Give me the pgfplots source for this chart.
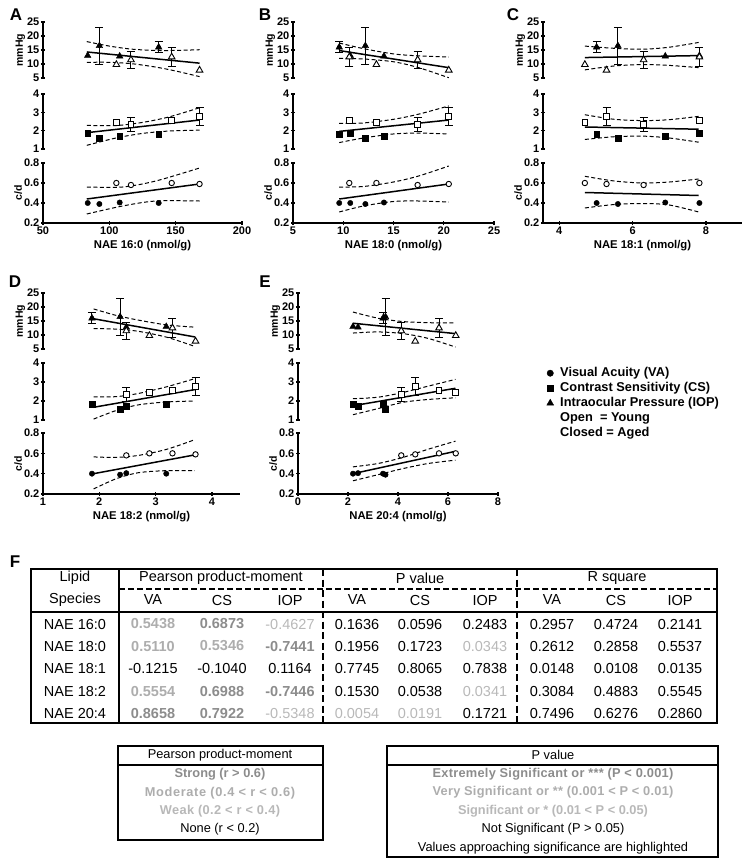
\documentclass[border=0pt]{standalone}
\usepackage{fontspec}
\setmainfont{Liberation Sans}
\usepackage{pgfplots}
\pgfplotsset{compat=1.18}
\definecolor{gS}{gray}{0.55}
\definecolor{gM}{gray}{0.68}
\definecolor{gW}{gray}{0.72}
\pgfplotsset{
  sub/.style={scale only axis, clip=false, tick align=outside, major tick length=4pt,
    every tick/.style={line width=1.3pt,black},
    ticklabel style={font=\bfseries\fontsize{11}{12}\selectfont, inner sep=1.5pt},
    xlabel style={font=\bfseries\fontsize{11.3}{13}\selectfont, yshift=-1pt},
    ylabel style={font=\bfseries\fontsize{10.5}{12}\selectfont},
    ylabel shift=-3pt,
    anchor=south west},
  iop/.style={sub, axis x line=none, axis y line=left, ymin=5, ymax=25, ytick={5,10,15,20,25}, yticklabels={5,10,15,20,25}, ylabel={mmHg}, height=56pt, axis line style={-, line width=1.5pt}},
  cs/.style={sub, axis x line=none, axis y line=left, ymin=1, ymax=4, ytick={1,2,3,4}, yticklabels={1,2,3,4}, height=55pt, axis line style={-, line width=1.5pt}},
  va/.style={sub, axis x line=bottom, axis y line=left, ymin=0.2, ymax=0.8, ytick={0.2,0.4,0.6,0.8}, yticklabels={0.2,0.4,0.6,0.8}, ylabel={c/d}, height=60pt, axis line style={-, line width=1.5pt}},
  regl/.style={black, line width=1.5pt, no marks},
  band/.style={black, line width=1pt, dash pattern=on 4pt off 2.5pt, smooth, no marks},
  eb/.style={only marks, mark=none, black, error bars/.cd, y dir=both, y explicit, error bar style={black, line width=1pt}, error mark options={black, rotate=90, mark size=4pt, line width=1pt}},
  cc/.style={only marks, black, mark=*, mark size=2.7pt},
  oc/.style={only marks, black, mark=*, mark size=2.7pt, mark options={fill=white, line width=0.9pt}},
  cq/.style={only marks, black, mark=square*, mark size=2.9pt},
  oq/.style={only marks, black, mark=square*, mark size=2.9pt, mark options={fill=white, line width=0.9pt}},
  ct/.style={only marks, black, mark=triangle*, mark size=3.8pt},
  ot/.style={only marks, black, mark=triangle*, mark size=3.8pt, mark options={fill=white, line width=0.9pt}},
}
\newcommand\T[3]{\node[font=\fontsize{14.5}{16}\selectfont] at (#1pt,-#2pt) {#3};}
\begin{document}
\begin{tikzpicture}
\path[use as bounding box] (0,0) rectangle (751pt,-868pt);
\tikzset{lett/.style={font=\bfseries\fontsize{17}{17}\selectfont}}
\node[lett] at (16pt,-15pt) {A};
\node[lett] at (265pt,-15pt) {B};
\node[lett] at (513pt,-15pt) {C};
\node[lett] at (15pt,-282pt) {D};
\node[lett] at (265pt,-282pt) {E};
\node[lett] at (15pt,-562pt) {F};

% ================= Panel A =================
\begin{axis}[iop, at={(43pt,-78pt)}, width=199pt, xmin=50, xmax=200]
\addplot[eb] coordinates {(92.5,16.5) +- (0,6.5) (137.2,16) +- (0,2) (116.3,11.5) +- (0,3) (147,12.5) +- (0,3.5)};
\addplot[band] coordinates {(83,18.0)(100,16.4)(117,15.3)(135,14.85)(150,14.85)(168,15.1)};
\addplot[band] coordinates {(83,10.6)(100,10.6)(117,10.1)(135,8.9)(150,7.5)(168,5.5)};
\addplot[regl] coordinates {(83,14.3)(168,10.3)};
\addplot[ct] coordinates {(83.7,13.0)(92.5,16.5)(107.8,12.8)(137.2,16)};
\addplot[ot] coordinates {(105.3,9.8)(116.3,11.5)(147,12.5)(168,7.8)};
\end{axis}
\begin{axis}[cs, at={(43pt,-149pt)}, width=199pt, xmin=50, xmax=200]
\addplot[eb] coordinates {(116.3,2.33) +- (0,0.37) (168,2.76) +- (0,0.48)};
\addplot[band] coordinates {(83,2.29)(105,2.28)(125,2.45)(145,2.75)(168,3.25)};
\addplot[band] coordinates {(83,1.2)(105,1.6)(125,1.85)(145,1.98)(168,2.03)};
\addplot[regl] coordinates {(83,1.89)(168,2.58)};
\addplot[cq] coordinates {(83.7,1.85)(92.5,1.58)(107.8,1.71)(137.2,1.82)};
\addplot[oq] coordinates {(105.3,2.45)(116.3,2.33)(147,2.57)(168,2.76)};
\end{axis}
\begin{axis}[va, at={(43pt,-223pt)}, width=199pt, xmin=50, xmax=200, xtick={50,100,150,200}, xticklabels={50,100,150,200}, xlabel={NAE 16:0 (nmol/g)}]
\addplot[band] coordinates {(83,0.56)(110,0.56)(135,0.62)(168,0.75)};
\addplot[band] coordinates {(83,0.29)(110,0.37)(135,0.42)(168,0.42)};
\addplot[regl] coordinates {(83,0.44)(168,0.59)};
\addplot[cc] coordinates {(83.7,0.40)(92.5,0.39)(107.8,0.405)(137.2,0.40)};
\addplot[oc] coordinates {(105.3,0.60)(116.3,0.58)(147,0.60)(168,0.59)};
\end{axis}

% ================= Panel B =================
\begin{axis}[iop, at={(293pt,-78pt)}, width=201pt, xmin=5, xmax=25]
\addplot[eb] coordinates {(12.2,16.5) +- (0,6.5) (9.6,16) +- (0,2) (17.4,11.5) +- (0,3) (10.6,12.5) +- (0,3.5)};
\addplot[band] coordinates {(9.6,17.5)(12,15.5)(15,13.6)(17.5,12.9)(20.5,12.5)};
\addplot[band] coordinates {(9.6,12.0)(12,11.8)(15,10.8)(17.5,8.7)(20.5,5.1)};
\addplot[regl] coordinates {(9.6,14.8)(20.5,8.7)};
\addplot[ct] coordinates {(10.7,13.0)(12.2,16.5)(14.05,12.8)(9.6,16)};
\addplot[ot] coordinates {(13.3,9.8)(17.4,11.5)(10.6,12.5)(20.5,7.8)};
\end{axis}
\begin{axis}[cs, at={(293pt,-149pt)}, width=201pt, xmin=5, xmax=25]
\addplot[eb] coordinates {(17.4,2.33) +- (0,0.37) (20.5,2.76) +- (0,0.48)};
\addplot[band] coordinates {(9.6,2.4)(12,2.42)(15,2.62)(17.5,2.9)(20.5,3.35)};
\addplot[band] coordinates {(9.6,1.35)(12,1.6)(15,1.82)(17.5,1.87)(20.5,1.82)};
\addplot[regl] coordinates {(9.6,1.96)(20.5,2.58)};
\addplot[cq] coordinates {(10.7,1.85)(12.2,1.58)(14.05,1.71)(9.6,1.82)};
\addplot[oq] coordinates {(13.3,2.45)(17.4,2.33)(10.6,2.57)(20.5,2.76)};
\end{axis}
\begin{axis}[va, at={(293pt,-223pt)}, width=201pt, xmin=5, xmax=25, xtick={5,10,15,20,25}, xticklabels={5,10,15,20,25}, xlabel={NAE 18:0 (nmol/g)}]
\addplot[band] coordinates {(9.6,0.56)(12,0.565)(15,0.61)(17.5,0.67)(20.5,0.77)};
\addplot[band] coordinates {(9.6,0.31)(12,0.37)(15,0.415)(17.5,0.42)(20.5,0.41)};
\addplot[regl] coordinates {(9.6,0.44)(20.5,0.59)};
\addplot[cc] coordinates {(10.7,0.40)(12.2,0.39)(14.05,0.405)(9.6,0.40)};
\addplot[oc] coordinates {(13.3,0.60)(17.4,0.58)(10.6,0.60)(20.5,0.59)};
\end{axis}

% ================= Panel C =================
\begin{axis}[iop, at={(543pt,-78pt)}, width=199pt, xmin=3.56, xmax=8.98]
\addplot[eb] coordinates {(5.6,16.5) +- (0,6.5) (5.02,16) +- (0,2) (6.30,11.5) +- (0,3) (7.82,12.5) +- (0,3.5)};
\addplot[band] coordinates {(4.7,16.4)(5.5,15.6)(6.3,15.3)(7,16)(7.8,17.7)};
\addplot[band] coordinates {(4.7,7.9)(5.5,9.3)(6.3,9.8)(7,9.5)(7.8,8.7)};
\addplot[regl] coordinates {(4.7,12.3)(7.8,13.0)};
\addplot[ct] coordinates {(7.82,13.0)(5.6,16.5)(6.89,12.8)(5.02,16)};
\addplot[ot] coordinates {(4.70,9.8)(6.30,11.5)(7.82,12.5)(5.29,7.8)};
\end{axis}
\begin{axis}[cs, at={(543pt,-149pt)}, width=199pt, xmin=3.56, xmax=8.98]
\addplot[eb] coordinates {(6.30,2.33) +- (0,0.37) (5.29,2.76) +- (0,0.48)};
\addplot[band] coordinates {(4.7,2.87)(5.5,2.62)(6.3,2.55)(7,2.6)(7.8,2.78)};
\addplot[band] coordinates {(4.7,1.52)(5.5,1.67)(6.3,1.7)(7,1.6)(7.8,1.37)};
\addplot[regl] coordinates {(4.7,2.2)(7.8,2.08)};
\addplot[cq] coordinates {(7.82,1.85)(5.6,1.58)(6.89,1.71)(5.02,1.82)};
\addplot[oq] coordinates {(4.70,2.45)(6.30,2.33)(7.82,2.57)(5.29,2.76)};
\end{axis}
\begin{axis}[va, at={(543pt,-223pt)}, width=199pt, xmin=3.56, xmax=8.98, xtick={4,6,8}, xticklabels={4,6,8}, xlabel={NAE 18:1 (nmol/g)}]
\addplot[band] coordinates {(4.7,0.667)(5.5,0.62)(6.3,0.6)(7,0.61)(7.8,0.64)};
\addplot[band] coordinates {(4.7,0.35)(5.5,0.385)(6.3,0.395)(7,0.38)(7.8,0.31)};
\addplot[regl] coordinates {(4.7,0.505)(7.8,0.475)};
\addplot[cc] coordinates {(7.82,0.40)(5.6,0.39)(6.89,0.405)(5.02,0.40)};
\addplot[oc] coordinates {(4.70,0.60)(6.30,0.58)(7.82,0.60)(5.29,0.59)};
\end{axis}

% ================= Panel D =================
\begin{axis}[iop, at={(43pt,-349pt)}, width=197pt, xmin=1, xmax=4.5]
\addplot[eb] coordinates {(2.37,16.5) +- (0,6.5) (1.87,16) +- (0,2) (2.48,11.5) +- (0,3) (3.30,12.5) +- (0,3.5)};
\addplot[band] coordinates {(1.9,19.3)(2.3,17.0)(2.7,15.3)(3.2,13.6)(3.7,12.8)};
\addplot[band] coordinates {(1.9,12.3)(2.3,12.1)(2.7,11.3)(3.2,9.2)(3.7,5.9)};
\addplot[regl] coordinates {(1.9,15.8)(3.7,9.3)};
\addplot[ct] coordinates {(3.19,13.0)(2.37,16.5)(2.48,12.8)(1.87,16)};
\addplot[ot] coordinates {(2.89,9.8)(2.48,11.5)(3.30,12.5)(3.71,7.8)};
\end{axis}
\begin{axis}[cs, at={(43pt,-420pt)}, height=57pt, width=197pt, xmin=1, xmax=4.5]
\addplot[eb] coordinates {(2.48,2.33) +- (0,0.37) (3.71,2.76) +- (0,0.48)};
\addplot[band] coordinates {(1.9,2.22)(2.3,2.23)(2.7,2.4)(3.2,2.75)(3.7,3.18)};
\addplot[band] coordinates {(1.9,1.05)(2.3,1.5)(2.7,1.8)(3.2,1.95)(3.7,2.0)};
\addplot[regl] coordinates {(1.9,1.67)(3.7,2.6)};
\addplot[cq] coordinates {(3.19,1.85)(2.37,1.58)(2.48,1.71)(1.87,1.82)};
\addplot[oq] coordinates {(2.89,2.45)(2.48,2.33)(3.30,2.57)(3.71,2.76)};
\end{axis}
\begin{axis}[va, at={(43pt,-494pt)}, height=61pt, width=197pt, xmin=1, xmax=4.5, xtick={1,2,3,4}, xticklabels={1,2,3,4}, xlabel={NAE 18:2 (nmol/g)}]
\addplot[band] coordinates {(1.9,0.565)(2.3,0.56)(2.7,0.58)(3.2,0.64)(3.7,0.735)};
\addplot[band] coordinates {(1.9,0.25)(2.3,0.35)(2.7,0.41)(3.2,0.43)(3.7,0.43)};
\addplot[regl] coordinates {(1.9,0.40)(3.7,0.585)};
\addplot[cc] coordinates {(3.19,0.40)(2.37,0.39)(2.48,0.405)(1.87,0.40)};
\addplot[oc] coordinates {(2.89,0.60)(2.48,0.58)(3.30,0.60)(3.71,0.59)};
\end{axis}

% ================= Panel E =================
\begin{axis}[iop, at={(298pt,-349pt)}, width=200pt, xmin=0, xmax=8]
\addplot[eb] coordinates {(3.5,16.5) +- (0,6.5) (3.4,16) +- (0,2) (4.13,11.5) +- (0,3) (5.64,12.5) +- (0,3.5)};
\addplot[band] coordinates {(2.2,18.2)(3.2,16.0)(4.2,14.8)(5.2,14.4)(6.3,14.3)};
\addplot[band] coordinates {(2.2,10.7)(3.2,11.1)(4.2,10.5)(5.2,8.8)(6.3,5.7)};
\addplot[regl] coordinates {(2.2,14.2)(6.3,10.5)};
\addplot[ct] coordinates {(2.2,13.0)(3.5,16.5)(2.4,12.8)(3.4,16)};
\addplot[ot] coordinates {(6.31,9.8)(4.13,11.5)(5.64,12.5)(4.69,7.8)};
\end{axis}
\begin{axis}[cs, at={(298pt,-420pt)}, height=57pt, width=200pt, xmin=0, xmax=8]
\addplot[eb] coordinates {(4.13,2.33) +- (0,0.37) (4.69,2.76) +- (0,0.48)};
\addplot[band] coordinates {(2.2,2.12)(3.2,2.2)(4.2,2.45)(5.2,2.78)(6.3,3.14)};
\addplot[band] coordinates {(2.2,1.28)(3.2,1.6)(4.2,1.93)(5.2,2.08)(6.3,2.17)};
\addplot[regl] coordinates {(2.2,1.75)(6.3,2.67)};
\addplot[cq] coordinates {(2.2,1.85)(3.5,1.58)(2.4,1.71)(3.4,1.82)};
\addplot[oq] coordinates {(6.31,2.45)(4.13,2.33)(5.64,2.57)(4.69,2.76)};
\end{axis}
\begin{axis}[va, at={(298pt,-494pt)}, height=61pt, width=200pt, xmin=0, xmax=8, xtick={0,2,4,6,8}, xticklabels={0,2,4,6,8}, xlabel={NAE 20:4 (nmol/g)}]
\addplot[band] coordinates {(2.2,0.467)(3.2,0.5)(4.2,0.56)(5.2,0.64)(6.3,0.72)};
\addplot[band] coordinates {(2.2,0.33)(3.2,0.39)(4.2,0.45)(5.2,0.5)(6.3,0.533)};
\addplot[regl] coordinates {(2.2,0.40)(6.3,0.62)};
\addplot[cc] coordinates {(2.2,0.40)(3.5,0.39)(2.4,0.405)(3.4,0.40)};
\addplot[oc] coordinates {(6.31,0.60)(4.13,0.58)(5.64,0.60)(4.69,0.59)};
\end{axis}

% ================= Legend =================
\begin{axis}[hide axis, scale only axis, at={(541.5pt,-375.5pt)}, anchor=south west, width=10pt, height=10pt, xmin=0, xmax=1, ymin=0, ymax=1,
  legend style={draw=none, fill=none, at={(0,1)}, anchor=north west, font=\bfseries\fontsize{12.8}{15}\selectfont, row sep=0pt, inner sep=0pt,
    nodes={inner sep=1pt, text height=10pt, text depth=3pt},
    /tikz/every odd column/.append style={column sep=5.5pt}},
  legend cell align=left]
\addlegendimage{only marks, black, mark=*, mark size=3.2pt}
\addlegendentry{Visual Acuity (VA)}
\addlegendimage{only marks, black, mark=square*, mark size=3.1pt}
\addlegendentry{Contrast Sensitivity (CS)}
\addlegendimage{only marks, black, mark=triangle*, mark size=4pt}
\addlegendentry{Intraocular Pressure (IOP)}
\addlegendimage{empty legend}
\addlegendentry{Open\ \ = Young}
\addlegendimage{empty legend}
\addlegendentry{Closed = Aged}
\end{axis}

% ================= Table F =================
\draw[line width=1.8pt] (31pt,-569pt) rectangle (717pt,-723pt);
\draw[line width=1.5pt] (119pt,-569pt) -- (119pt,-723pt);
\draw[line width=2pt, dash pattern=on 7pt off 3.5pt] (323pt,-569pt) -- (323pt,-723pt);
\draw[line width=2pt, dash pattern=on 7pt off 3.5pt] (517pt,-569pt) -- (517pt,-723pt);
\draw[line width=1.5pt, dash pattern=on 6pt off 3pt] (119pt,-589pt) -- (717pt,-589pt);
\draw[line width=2pt] (31pt,-612pt) -- (717pt,-612pt);
\T{75}{578}{Lipid}
\T{75}{600}{Species}
\T{221}{578}{Pearson product-moment}
\T{420}{578}{P value}
\T{617}{578}{R square}
\T{153}{600}{VA}\T{222}{600}{CS}\T{290}{600}{IOP}
\T{357}{600}{VA}\T{420}{600}{CS}\T{485}{600}{IOP}
\T{552}{600}{VA}\T{616}{600}{CS}\T{680}{600}{IOP}
% rows
\T{75}{624}{NAE 16:0}
\T{153}{624}{\color{gM}\bfseries 0.5438}\T{222}{624}{\color{gS}\bfseries 0.6873}\T{290}{624}{\color{gW}-0.4627}
\T{357}{624}{0.1636}\T{420}{624}{0.0596}\T{485}{624}{0.2483}
\T{552}{624}{0.2957}\T{616}{624}{0.4724}\T{680}{624}{0.2141}
\T{75}{646}{NAE 18:0}
\T{153}{646}{\color{gM}\bfseries 0.5110}\T{222}{646}{\color{gM}\bfseries 0.5346}\T{290}{646}{\color{gS}\bfseries -0.7441}
\T{357}{646}{0.1956}\T{420}{646}{0.1723}\T{485}{646}{\color{gW}0.0343}
\T{552}{646}{0.2612}\T{616}{646}{0.2858}\T{680}{646}{0.5537}
\T{75}{668}{NAE 18:1}
\T{153}{668}{-0.1215}\T{222}{668}{-0.1040}\T{290}{668}{0.1164}
\T{357}{668}{0.7745}\T{420}{668}{0.8065}\T{485}{668}{0.7838}
\T{552}{668}{0.0148}\T{616}{668}{0.0108}\T{680}{668}{0.0135}
\T{75}{691}{NAE 18:2}
\T{153}{691}{\color{gM}\bfseries 0.5554}\T{222}{691}{\color{gS}\bfseries 0.6988}\T{290}{691}{\color{gS}\bfseries -0.7446}
\T{357}{691}{0.1530}\T{420}{691}{0.0538}\T{485}{691}{\color{gW}0.0341}
\T{552}{691}{0.3084}\T{616}{691}{0.4883}\T{680}{691}{0.5545}
\T{75}{713}{NAE 20:4}
\T{153}{713}{\color{gS}\bfseries 0.8658}\T{222}{713}{\color{gS}\bfseries 0.7922}\T{290}{713}{\color{gW}-0.5348}
\T{357}{713}{\color{gW}0.0054}\T{420}{713}{\color{gW}0.0191}\T{485}{713}{0.1721}
\T{552}{713}{0.7496}\T{616}{713}{0.6276}\T{680}{713}{0.2860}

% ================= Key boxes =================
\tikzset{kb/.style={font=\fontsize{12.8}{14}\selectfont}, kbb/.style={font=\bfseries\fontsize{12.8}{14}\selectfont}}
\draw[line width=1.6pt] (118pt,-746pt) rectangle (323pt,-840pt);
\draw[line width=1.2pt] (118pt,-765pt) -- (323pt,-765pt);
\node[kb] at (220pt,-755pt) {Pearson product-moment};
\node[kbb, text=gS] at (220pt,-774pt) {Strong (r > 0.6)};
\node[kbb, text=gM] at (220pt,-793pt) {\addfontfeature{LetterSpace=5}Moderate (0.4 < r < 0.6)};
\node[kbb, text=gW] at (220pt,-811pt) {\addfontfeature{LetterSpace=3}Weak (0.2 < r < 0.4)};
\node[kb] at (220pt,-829pt) {None (r < 0.2)};

\draw[line width=1.6pt] (387pt,-746pt) rectangle (718pt,-857pt);
\draw[line width=1.2pt] (387pt,-765pt) -- (718pt,-765pt);
\node[kb] at (553pt,-755pt) {P value};
\node[kbb, text=gS] at (553pt,-774pt) {\addfontfeature{LetterSpace=2}Extremely Significant or *** (P < 0.001)};
\node[kbb, text=gM] at (553pt,-792pt) {\addfontfeature{LetterSpace=2}Very Significant or ** (0.001 < P < 0.01)};
\node[kbb, text=gW] at (553pt,-811pt) {Significant or * (0.01 < P < 0.05)};
\node[kb] at (553pt,-829pt) {Not Significant (P > 0.05)};
\node[kb] at (553pt,-848pt) {Values approaching significance are highlighted};
\end{tikzpicture}
\end{document}
